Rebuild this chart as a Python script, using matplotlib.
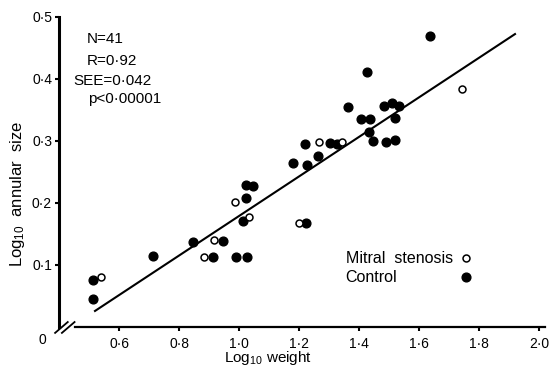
import matplotlib
matplotlib.use("Agg")
import matplotlib.pyplot as plt
from matplotlib.lines import Line2D
import numpy as np

plt.rcParams['font.family'] = ['Liberation Sans', 'DejaVu Sans']
plt.rcParams['mathtext.fontset'] = 'custom'
plt.rcParams['mathtext.rm'] = 'Liberation Sans'
plt.rcParams['mathtext.default'] = 'regular'

# Mitral stenosis (open circles)
ms_x = [0.54, 0.883, 0.917, 0.987, 1.033, 1.20, 1.267, 1.343, 1.743]
ms_y = [0.081, 0.113, 0.140, 0.202, 0.177, 0.168, 0.298, 0.298, 0.384]

# Control (filled circles)
ct_x = [0.513, 0.513, 0.713, 0.847, 0.947, 0.913, 0.99, 1.027, 1.013, 1.023,
        1.023, 1.047, 1.223, 1.18, 1.227, 1.263, 1.22, 1.303, 1.327, 1.363,
        1.427, 1.637, 1.407, 1.437, 1.483, 1.51, 1.533, 1.52, 1.433, 1.447,
        1.49, 1.52]
ct_y = [0.076, 0.045, 0.115, 0.137, 0.139, 0.113, 0.113, 0.113, 0.171, 0.208,
        0.229, 0.227, 0.168, 0.265, 0.261, 0.276, 0.295, 0.297, 0.295, 0.355,
        0.411, 0.469, 0.335, 0.335, 0.356, 0.361, 0.356, 0.337, 0.315, 0.300,
        0.298, 0.302]

# regression line
fit_slope = 0.319
fit_intercept = -0.140
fit_xrange = [0.52, 1.92]

stats_lines = ["N=41", "R=0·92", "SEE=0·042", "p<0·00001"]
legend_labels = ["Mitral  stenosis", "Control"]
xticks = [0.6, 0.8, 1.0, 1.2, 1.4, 1.6, 1.8, 2.0]
xticklabels = ["0·6", "0·8", "1·0", "1·2", "1·4", "1·6", "1·8", "2·0"]
yticks = [0.1, 0.2, 0.3, 0.4, 0.5]
yticklabels = ["0·1", "0·2", "0·3", "0·4", "0·5"]

fig = plt.figure(figsize=(5.53, 3.67), dpi=100)
ax = fig.add_axes([59/553, 1-327/367, 486/553, 310/367])
ax.set_xlim(0.4, 2.02)
ax.set_ylim(0, 0.5)

fx = np.array(fit_xrange)
ax.plot(fx, fit_slope*fx + fit_intercept, color='black', lw=1.5, zorder=1)

ct_line, = ax.plot(ct_x, ct_y, 'o', color='black', ms=6.3, zorder=3)
ms_line, = ax.plot(ms_x, ms_y, 'o', mfc='white', mec='black', mew=1.1, ms=5.0,
                   zorder=4)

for s in ['top', 'right']:
    ax.spines[s].set_visible(False)
ax.spines['left'].set_linewidth(2.2)
ax.spines['bottom'].set_linewidth(1.6)
ax.spines['bottom'].set_bounds(0.453, 2.02)

ax.set_xticks(xticks)
ax.set_xticklabels(xticklabels)
ax.set_yticks(yticks)
ax.set_yticklabels(yticklabels)
ax.tick_params(axis='both', direction='out', length=3, width=1.5, labelsize=10)
ax.tick_params(axis='x', pad=4)
ax.tick_params(axis='y', pad=2)

ax.set_xlabel("Log$_{10}$ weight", fontsize=11)
ax.xaxis.set_label_coords(0.43, -0.072)
ax.set_ylabel("Log$_{10}$  annular  size", fontsize=12)
ax.yaxis.set_label_coords(-0.066, 0.43)

# axis break marks
for x0 in [-0.008, 0.006]:
    ax.add_line(Line2D([x0, x0+0.026], [-0.019, 0.016], transform=ax.transAxes,
                       color='black', lw=1.3, clip_on=False))
ax.text(-0.035, -0.042, "0", transform=ax.transAxes, ha='center', va='center',
        fontsize=10)

stat_pos = [(0.057, 0.928), (0.057, 0.857), (0.030, 0.793), (0.059, 0.735)]
for txt, (px, py) in zip(stats_lines, stat_pos):
    ax.text(px, py, txt, transform=ax.transAxes, ha='left', va='center', fontsize=11)

# legend: labels left-aligned, symbols in a column to the right
blank = [Line2D([], [], ls='none') for _ in legend_labels]
leg_txt = ax.legend(blank, legend_labels, loc='center left',
                    bbox_to_anchor=(0.59, 0.19), frameon=False, fontsize=11.5,
                    borderpad=0, borderaxespad=0, labelspacing=0.25,
                    handlelength=0, handletextpad=0)
ax.add_artist(leg_txt)
ax.legend([ms_line, ct_line], ["", ""], loc='center',
          bbox_to_anchor=(0.837, 0.19), frameon=False, fontsize=11.5,
          borderpad=0, borderaxespad=0, labelspacing=0.25,
          handlelength=1.0, handletextpad=0)

fig.savefig("out.png", dpi=100)
